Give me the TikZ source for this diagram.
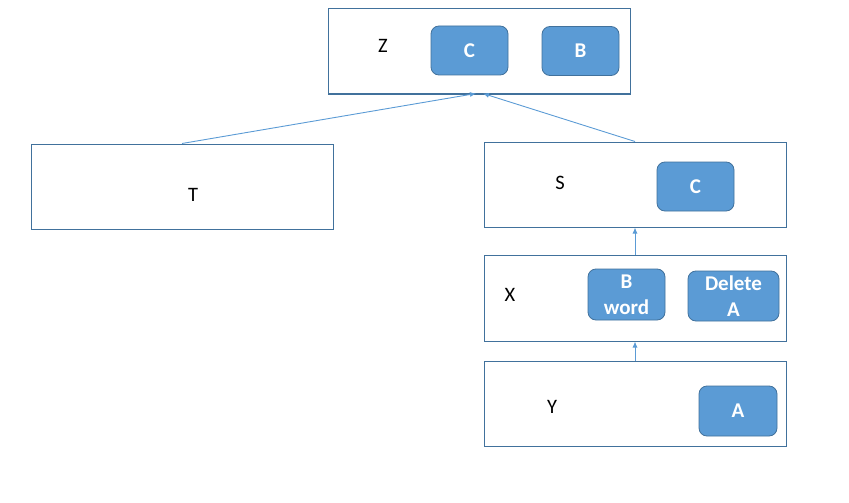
\documentclass[tikz,border=0pt]{standalone}
\usepackage{fontspec}
\setmainfont{Carlito}
\usetikzlibrary{arrows.meta}
\definecolor{boxline}{HTML}{41719C}
\definecolor{pillfill}{HTML}{5B9BD5}
\definecolor{conn}{HTML}{5B9BD5}
\tikzset{
  bigbox/.style={draw=boxline, line width=1pt, minimum width=302pt, minimum height=85pt, inner sep=0pt, fill=white},
  pill/.style={draw=boxline, fill=pillfill, line width=0.8pt, rounded corners=8pt, minimum width=77pt, minimum height=49pt, inner sep=1pt, text=white, font=\fontsize{21}{26}\selectfont\bfseries, align=center},
  lbl/.style={font=\fontsize{20.5}{24}\selectfont, text=black, inner sep=0pt},
  conline/.style={draw=conn, line width=0.9pt, -{Latex[length=6pt,width=5pt]}}
}
\begin{document}
\begin{tikzpicture}[x=1pt,y=-1pt]
\useasboundingbox (0,0) rectangle (849,503);
% boxes
\node[bigbox] (Z) at (479,51.5) {};
\node[bigbox] (T) at (182,186.5) {};
\node[bigbox] (S) at (635,184.5) {};
\node[bigbox, minimum height=86pt] (X) at (635,298) {};
\node[bigbox] (Y) at (635,403.5) {};
% labels
\node[lbl] (zl) at (383,46) {Z};
\node[lbl] (tl) at (193,195) {T};
\node[lbl] (sl) at (560,183) {S};
\node[lbl] (xl) at (510,295) {X};
\node[lbl] (yl) at (552,407) {Y};
% pills
\node[pill] (zc) at (469.5,50.5) {C};
\node[pill] (zb) at (580.5,51) {B};
\node[pill] (sc) at (695.5,186.5) {C};
\node[pill, minimum height=51pt] (xb) at (626.5,294.5) {B\\word};
\node[pill, minimum width=91pt, minimum height=50pt] (xd) at (733.5,296) {Delete\\A};
\node[pill, minimum width=78pt, minimum height=50pt] (ya) at (738,411) {A};
% connectors
\draw[conline] (T.north) -- ([xshift=-3pt,yshift=1pt]Z.south);
\draw[conline] (S.north) -- ([xshift=4pt,yshift=1pt]Z.south);
\draw[conline] (X.north) -- (S.south);
\draw[conline] (Y.north) -- (X.south);
\end{tikzpicture}
\end{document}
